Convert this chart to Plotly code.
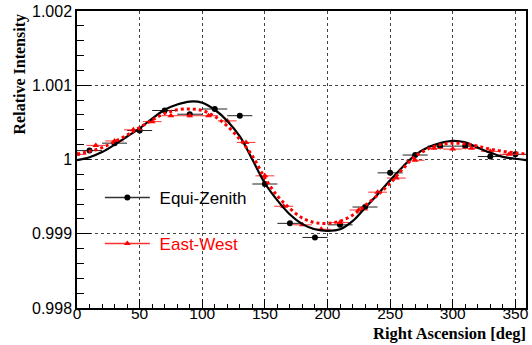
import plotly.graph_objects as go

# ---- data ----
ez_ra = [10, 30, 50, 70, 90, 110, 130, 150, 170, 190, 210, 230, 250, 270, 290, 310, 330, 350]
ez_val = [1.00012, 1.00022, 1.00039, 1.00066, 1.00061, 1.00068, 1.00059, 0.99967, 0.99914,
          0.99895, 0.99912, 0.99936, 0.99982, 1.00006, 1.00018, 1.00018, 1.00004, 1.00007]
ez_xerr = [10] * len(ez_ra)

ew_ra = [0, 15, 30, 45, 60, 75, 90, 105, 120, 135, 150, 165, 180, 195, 210, 225, 240, 255,
         270, 285, 300, 315, 330, 345]
ew_val = [1.00007, 1.00019, 1.00025, 1.00040, 1.00051, 1.00059, 1.00059, 1.00059, 1.00052,
          1.00023, 0.99978, 0.99937, 0.99912, 0.99906, 0.99915, 0.99932, 0.99956, 0.99975,
          0.99999, 1.00015, 1.00014, 1.00015, 1.00011, 1.00007]
ew_xerr = [7.5] * len(ew_ra)

fit_ra = list(range(0, 361, 10))
ez_fit = [0.99999, 1.00003, 1.00010, 1.00020, 1.00031, 1.00042, 1.00055, 1.00067, 1.00074,
          1.00078, 1.000765, 1.00067, 1.00052, 1.00031, 1.00000, 0.99968, 0.99945, 0.99926,
          0.99913, 0.99906, 0.99904, 0.99906, 0.99917, 0.99935, 0.99953, 0.99972, 0.99990,
          1.00006, 1.00016, 1.00022, 1.00025, 1.00023, 1.00016, 1.00009, 1.000036, 1.00001,
          0.99999]
ew_fit = [1.00007, 1.00011, 1.00016, 1.00024, 1.00033, 1.00043, 1.00053, 1.00062, 1.00067,
          1.00068, 1.00066, 1.00058, 1.00045, 1.00027, 1.00005, 0.99975, 0.99951, 0.99934,
          0.99921, 0.99915, 0.99914, 0.99917, 0.99925, 0.99938, 0.99952, 0.99968, 0.99987,
          1.00004, 1.00014, 1.00020, 1.00022, 1.00021, 1.00018, 1.00014, 1.00011, 1.00009,
          1.00007]

y_ticks = [0.998, 0.999, 1.0, 1.001, 1.002]
y_ticktext = ["0.998", "0.999", "1", "1.001", "1.002"]
x_ticks = [0, 50, 100, 150, 200, 250, 300, 350]
x_ticktext = ["0", "50", "100", "150", "200", "250", "300", "350"]

fig = go.Figure()

fig.add_trace(go.Scatter(
    x=ez_ra, y=ez_val, mode="markers", showlegend=False,
    marker=dict(symbol="circle", size=6, color="black"),
    error_x=dict(type="data", array=ez_xerr, width=0, thickness=1, color="#222"),
))
fig.add_trace(go.Scatter(
    x=ew_ra, y=ew_val, mode="markers", showlegend=False,
    marker=dict(symbol="triangle-up", size=6, color="red"),
    error_x=dict(type="data", array=ew_xerr, width=0, thickness=1, color="#ff3030"),
))
fig.add_trace(go.Scatter(
    x=fit_ra, y=ez_fit, mode="lines", line=dict(color="black", width=2.2, shape="spline"),
    showlegend=False,
))
fig.add_trace(go.Scatter(
    x=fit_ra, y=ew_fit, mode="lines", line=dict(color="red", width=3, dash="dot", shape="spline"),
    showlegend=False,
))
# legend entries
fig.add_trace(go.Scatter(
    x=[None], y=[None], mode="lines+markers", name="\u00a0Equi-Zenith", legendgroup="a",
    line=dict(color="#333", width=1.5), marker=dict(symbol="circle", size=6, color="black"),
))
fig.add_trace(go.Scatter(
    x=[None], y=[None], mode="lines+markers",
    name="\u00a0<span style='color:red'>East-West</span>", legendgroup="b",
    line=dict(color="#ff3030", width=1.5), marker=dict(symbol="triangle-up", size=6, color="red"),
))

W, H = 532, 345
L, R, T, B = 77, 3, 9, 37
pw = W - L - R
ph = H - T - B


def px_x(p):
    return (p - L) / pw


def px_y(p):
    return (H - B - p) / ph


fig.update_layout(
    width=W, height=H,
    margin=dict(l=L, r=R, t=T, b=B),
    paper_bgcolor="white", plot_bgcolor="white",
    font=dict(family="Liberation Sans, Arial, sans-serif", size=16, color="black"),
    showlegend=True,
    legend=dict(
        x=px_x(100), y=px_y(179), xanchor="left", yanchor="top",
        bgcolor="rgba(0,0,0,0)", font=dict(size=17, color="black"),
        traceorder="grouped", tracegroupgap=21, itemwidth=45,
    ),
    xaxis=dict(
        range=[0, 358.5], tickvals=x_ticks, ticktext=x_ticktext,
        ticks="inside", ticklen=9, tickwidth=1, tickcolor="black",
        showline=True, linecolor="black", linewidth=1.5, mirror=True,
        showgrid=True, gridcolor="#444", griddash="dot", gridwidth=1,
        zeroline=False, ticklabelstandoff=-9,
        minor=dict(dtick=10, ticks="inside", ticklen=4, tickcolor="black", showgrid=False),
        tickfont=dict(size=15.5),
    ),
    yaxis=dict(
        range=[0.998, 1.002], tickvals=y_ticks, ticktext=y_ticktext,
        ticks="inside", ticklen=14, tickwidth=1, tickcolor="black",
        showline=True, linecolor="black", linewidth=1.5, mirror=True,
        showgrid=True, gridcolor="#444", griddash="dot", gridwidth=1,
        zeroline=False,
        minor=dict(dtick=0.0002, tick0=0.998, ticks="inside", ticklen=7, tickcolor="black", showgrid=False),
        tickfont=dict(size=16),
    ),
    annotations=[
        dict(text="<b>Right Ascension [deg]</b>", xref="paper", yref="paper",
             x=px_x(531), y=px_y(345), xanchor="right", yanchor="bottom", showarrow=False,
             font=dict(family="Liberation Serif, Times New Roman, serif", size=16.5, color="black")),
        dict(text="<b>Relative Intensity</b>", textangle=-90, xref="paper", yref="paper",
             x=px_x(9), y=px_y(10), xanchor="left", yanchor="top", showarrow=False,
             font=dict(family="Liberation Serif, Times New Roman, serif", size=16, color="black")),
    ],
)

fig.write_html("out.html")
